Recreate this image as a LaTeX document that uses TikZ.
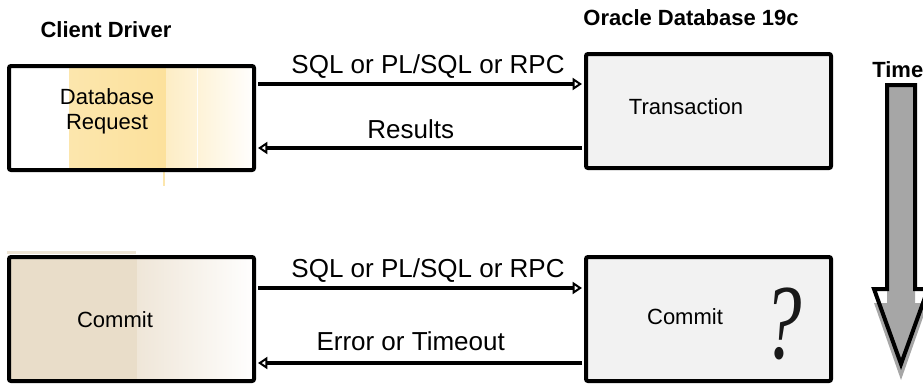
\documentclass[tikz,border=0pt]{standalone}
\usepackage{fontspec}
\setmainfont{Liberation Sans}
\newfontfamily\qmfont{Liberation Serif}
\usetikzlibrary{arrows.meta}
\definecolor{gold1}{HTML}{FCE6AD}
\definecolor{gold2}{HTML}{FCE19C}
\definecolor{gold3}{HTML}{FDEDC5}
\definecolor{gold4}{HTML}{FEF3D8}
\definecolor{tan1}{HTML}{E9DDC9}
\definecolor{tan2}{HTML}{EFE6D8}
\definecolor{boxgray}{HTML}{F2F2F2}
\definecolor{arrowgray}{HTML}{A6A6A6}
\tikzset{
  box/.style={draw=black, line width=3pt, rounded corners=1.5pt, minimum width=183.75pt, inner sep=0pt},
  conn/.style={line width=3pt, -{Triangle[open,length=7pt,width=9pt,line width=1.5pt]}, shorten >=1.5pt, shorten <=1.5pt},
  lbl/.style={font=\fontsize{19.5}{22}\selectfont, anchor=base, inner sep=0pt},
  txt/.style={font=\fontsize{16.5}{18.75}\selectfont, inner sep=0pt},
  hdr/.style={font=\bfseries\fontsize{16.5}{19}\selectfont, inner sep=0pt, anchor=base}
}
\begin{document}
\begin{tikzpicture}[x=0.75pt, y=-0.75pt]
\useasboundingbox (0,0) rectangle (923,386);
% fills of the client boxes
\fill[white] (9,66) rectangle (254,170);
\shade[left color=gold1, right color=gold2] (69,66) rectangle (166,170);
\shade[left color=gold3, right color=gold4] (166,66) rectangle (197,170);
\shade[left color=gold4, right color=white!97!gold4] (198.5,66) rectangle (254,170);
\draw[gold1, line width=1.5pt] (164,172) -- (164,186);
\fill[tan1] (9,257) rectangle (137,381);
\fill[tan1!80] (7,251) rectangle (136,254);
\shade[left color=tan2, right color=white!97!tan2] (137,257) rectangle (254,381);
% boxes
\node[box, minimum height=78pt] (L1) at (131.5,118) {};
\node[box, minimum height=85.5pt, fill=boxgray] (R1) at (708.5,111) {};
\node[box, minimum height=93pt] (L2) at (131.5,319) {};
\node[box, minimum height=93pt, fill=boxgray] (R2) at (708.5,319) {};
% texts in boxes
\node[txt, align=center] (tL1) at (107,111) {Database\\Request};
\node[txt, anchor=base] (tL2) at (115,327) {Commit};
\node[txt, anchor=base] (tR1) at (686,114) {Transaction};
\node[txt, anchor=base] (tR2) at (685,324) {Commit};
\node[inner sep=0pt, anchor=base, text=black!90, xscale=0.72, font=\fontsize{80}{84}\selectfont\qmfont\itshape] (qm) at (783,358) {?};
% headers
\node[hdr] (hL) at (106,37) {Client Driver};
\node[hdr] (hR) at (691,25) {Oracle Database 19c};
\node[hdr, anchor=base west] (hT) at (872,77) {Time};
% connectors
\coordinate (y1) at (0,84);
\coordinate (y2) at (0,148);
\coordinate (y3) at (0,288);
\coordinate (y4) at (0,363);
\draw[conn] (L1.east |- y1) -- node[lbl, pos=0.5, xshift=6pt, yshift=8pt] (l1) {SQL or PL/SQL or RPC} (R1.west |- y1);
\draw[conn] (R1.west |- y2) -- node[lbl, pos=0.5, xshift=-7pt, yshift=7.5pt] (l2) {Results} (L1.east |- y2);
\draw[conn] (L2.east |- y3) -- node[lbl, pos=0.5, xshift=6pt, yshift=8.25pt] (l3) {SQL or PL/SQL or RPC} (R2.west |- y3);
\draw[conn] (R2.west |- y4) -- node[lbl, pos=0.5, xshift=-7pt, yshift=9.75pt] (l4) {Error or Timeout} (L2.east |- y4);
% time arrow
\fill[arrowgray] (887,99) -- (915,99) -- (915,303) -- (928,303) -- (901,380) -- (874,303) -- (887,303) -- cycle;
\fill[arrowgray] (887,85) rectangle (915,300);
\draw[line width=3pt, line join=miter] (887,85) -- (915,85) -- (915,289) -- (928,289) -- (901,364) -- (874,289) -- (887,289) -- cycle;
\end{tikzpicture}
\end{document}
